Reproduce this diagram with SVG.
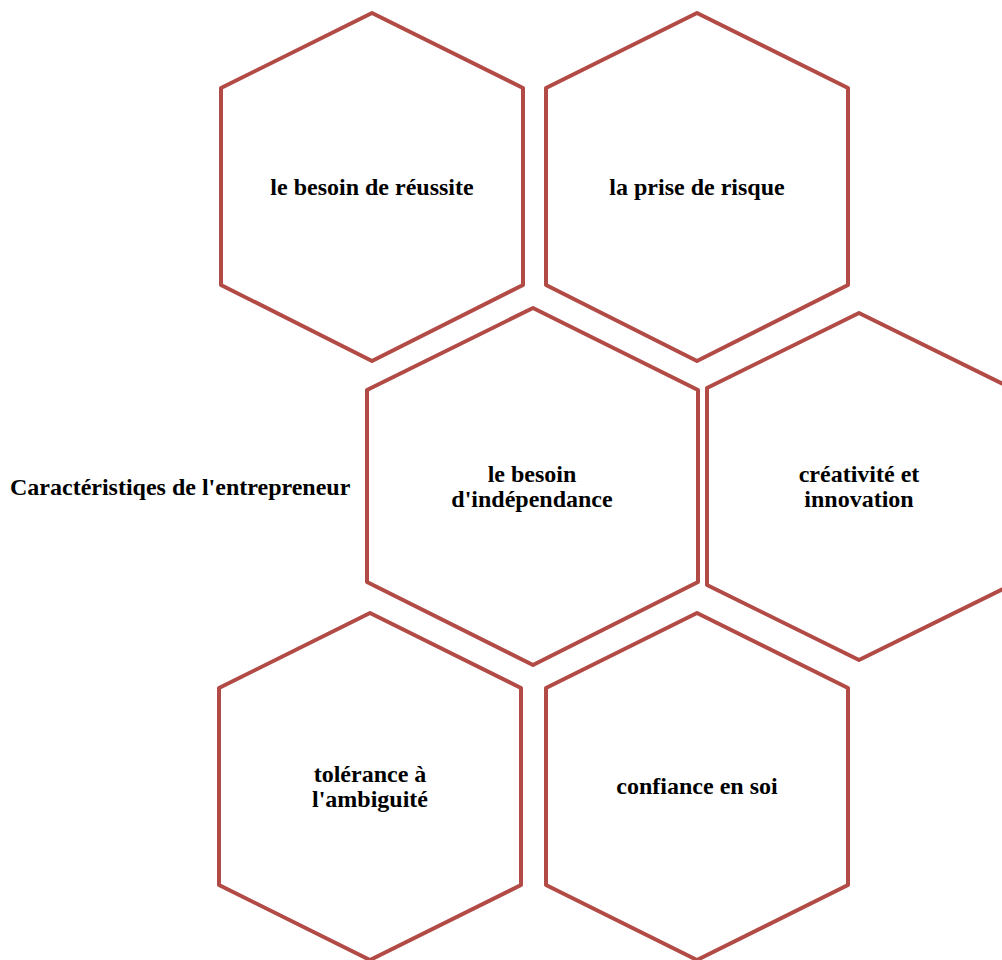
<svg xmlns="http://www.w3.org/2000/svg" width="1002" height="960" viewBox="0 0 1002 960">
  <style>
    .hex { fill: #ffffff; stroke: #B24A45; stroke-width: 4; stroke-linejoin: round; }
    .lbl { font-family: "Liberation Serif", "Times New Roman", serif; font-weight: bold; font-size: 24px; fill: #000000; text-anchor: middle; }
    .title { font-family: "Liberation Serif", "Times New Roman", serif; font-weight: bold; font-size: 24px; fill: #000000; }
  </style>
  <rect width="1002" height="960" fill="#ffffff"/>

  <!-- heading on the left -->
  <text class="title" x="10" y="495">Caractéristiqes de l'entrepreneur</text>

  <!-- honeycomb of characteristics -->
  <g id="node-reussite">
    <polygon class="hex" points="372,13 523,88 523,285 372,361 221,285 221,88"/>
    <text class="lbl" x="372" y="195">le besoin de réussite</text>
  </g>

  <g id="node-risque">
    <polygon class="hex" points="697,13 848,88 848,285 697,361 546,285 546,88"/>
    <text class="lbl" x="697" y="195">la prise de risque</text>
  </g>

  <g id="node-independance">
    <polygon class="hex" points="533,308 698,390 698,582 533,665 367,582 367,390"/>
    <text class="lbl" x="532" y="482">le besoin</text>
    <text class="lbl" x="532" y="507">d'indépendance</text>
  </g>

  <g id="node-creativite">
    <polygon class="hex" points="859,313 1011,388 1011,585 859,660 707,585 707,388"/>
    <text class="lbl" x="859" y="482">créativité et</text>
    <text class="lbl" x="859" y="507">innovation</text>
  </g>

  <g id="node-ambiguite">
    <polygon class="hex" points="370,613 521,688 521,885 370,960 219,885 219,688"/>
    <text class="lbl" x="370" y="782">tolérance à</text>
    <text class="lbl" x="370" y="807">l'ambiguité</text>
  </g>

  <g id="node-confiance">
    <polygon class="hex" points="697,613 848,688 848,885 697,960 546,885 546,688"/>
    <text class="lbl" x="697" y="794">confiance en soi</text>
  </g>

  <g id="connectors"></g>
</svg>
